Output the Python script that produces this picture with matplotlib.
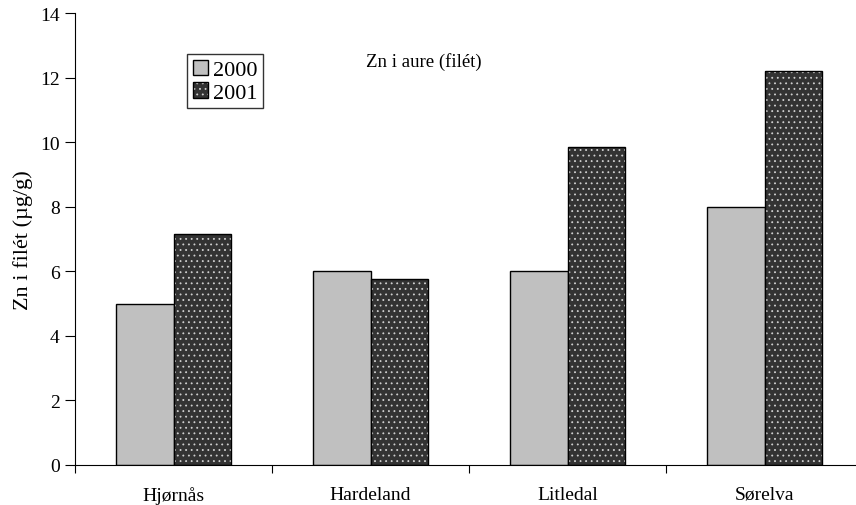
import matplotlib.pyplot as plt
import numpy as np
from matplotlib.patches import Patch
from matplotlib.legend_handler import HandlerTuple

plt.rcParams['font.family'] = 'Liberation Serif'
plt.rcParams['hatch.color'] = '#d0d0d0'
plt.rcParams['hatch.linewidth'] = 0.6

sites = ["Hjørnås", "Hardeland", "Litledal", "Sørelva"]
zn_2000 = [5.0, 6.0, 6.0, 8.0]
zn_2001 = [7.15, 5.75, 9.85, 12.2]

W, H = 856, 506
fig = plt.figure(figsize=(W / 100, H / 100), dpi=100)
ax = fig.add_axes([75 / W, 40 / H, 788 / W, 452 / H])

x = np.arange(len(sites))
bw = 0.29
ax.bar(x - bw / 2, zn_2000, bw, color='#c0c0c0', edgecolor='black', linewidth=1)
ax.bar(x + bw / 2, zn_2001, bw, color='#333333', hatch='...', linewidth=0)
ax.bar(x + bw / 2, zn_2001, bw, fill=False, edgecolor='black', linewidth=1)

ax.set_xlim(-0.5, 3.5)
ax.set_ylim(0, 14)
ax.set_yticks(range(0, 15, 2))
ax.set_xticks(np.arange(-0.5, 4, 1))
ax.set_xticklabels([])
ax.set_xticks(x, minor=True)
ax.set_xticklabels(sites, minor=True)
ax.tick_params(axis='x', which='minor', length=0, pad=15, labelsize=14)
ax.tick_params(axis='x', which='major', direction='out', length=6)
ax.tick_params(axis='y', direction='out', length=7, labelsize=14, pad=4)
ax.spines['top'].set_visible(False)
ax.spines['right'].set_visible(False)
ax.set_ylabel('Zn i filét (µg/g)', fontsize=16, labelpad=5)

fig.text(424 / W, 1 - 62 / H, 'Zn i aure (filét)', fontsize=13.5, ha='center', va='center')

h1 = Patch(facecolor='#c0c0c0', edgecolor='black', linewidth=1)
h2a = Patch(facecolor='#333333', hatch='...', linewidth=0)
h2b = Patch(fill=False, edgecolor='black', linewidth=1)
leg = fig.legend([h1, (h2a, h2b)], ['2000', '2001'],
                 handler_map={tuple: HandlerTuple(ndivide=1)},
                 loc='upper left', bbox_to_anchor=(187 / W, 1 - 55 / H),
                 fontsize=16, frameon=True, fancybox=False, edgecolor='black',
                 handlelength=0.7, handleheight=0.7, handletextpad=0.2,
                 borderpad=0.25, labelspacing=0.1, borderaxespad=0)
leg.get_frame().set_linewidth(1)

fig.savefig('out.png', dpi=100)
